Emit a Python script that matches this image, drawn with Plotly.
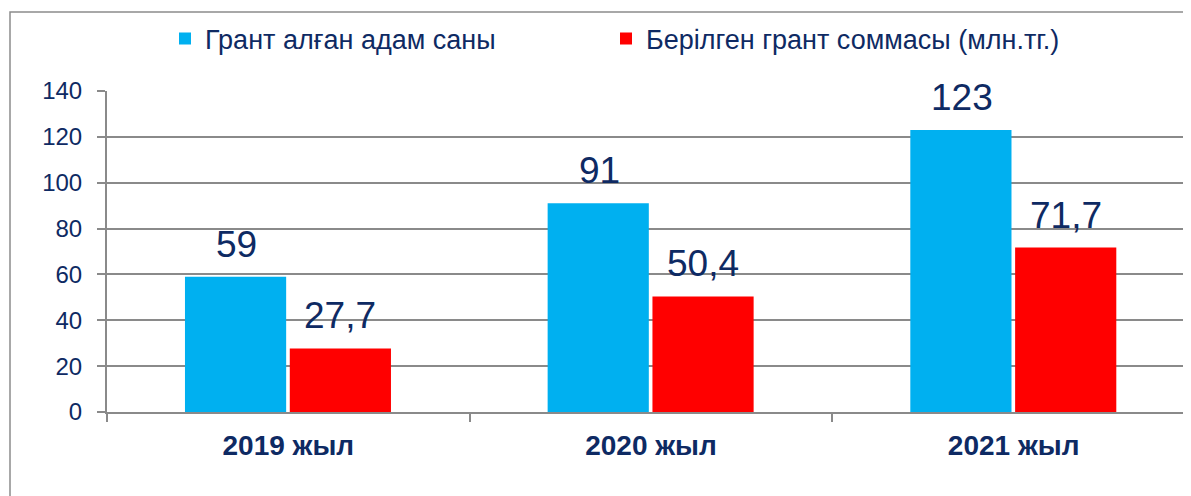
import plotly.graph_objects as go

categories = ["2019 жыл", "2020 жыл", "2021 жыл"]
grant_people = [59, 91, 123]
grant_amount = [27.7, 50.4, 71.7]
series_names = ["Грант алған адам саны", "Берілген грант соммасы (млн.тг.)"]
y_ticks = [0, 20, 40, 60, 80, 100, 120, 140]

NAVY = "#0E2A63"
GRID = "#8A8A8A"
FONT = "Liberation Sans, Arial, sans-serif"

OFF = 8  # page body margin
W, H = 1191, 496
L, R, T, B = 107 - OFF, 4, 91 - OFF, 84 + OFF
pw = W - L - R
ph = H - T - B

fig = go.Figure()
fig.add_trace(go.Bar(x=categories, y=grant_people, name=series_names[0],
                     marker=dict(color="#00B0F0", line=dict(width=0)),
                     offset=-0.285, width=0.279, legend="legend"))
fig.add_trace(go.Bar(x=categories, y=grant_amount, name=series_names[1],
                     marker=dict(color="#FF0000", line=dict(width=0)),
                     offset=0.004, width=0.279, legend="legend2"))

def fmt(v):
    s = ("%g" % v)
    return s.replace(".", ",")

annotations = []
for i, c in enumerate(categories):
    for v, sh in ((grant_people[i], -52), (grant_amount[i], 52)):
        annotations.append(dict(x=c, y=v, xref="x", yref="y", text=fmt(v),
                                showarrow=False, xanchor="center", yanchor="bottom",
                                xshift=sh, yshift=10,
                                font=dict(size=37, color=NAVY, family=FONT)))

leg_y = (H - B - (39 - OFF)) / ph

def leg(text_px):
    left = text_px - OFF - 40
    return dict(orientation="h", x=(left - L) / pw, xanchor="left",
                y=leg_y, yanchor="middle",
                font=dict(size=27, color=NAVY, family=FONT),
                itemsizing="constant", bgcolor="rgba(0,0,0,0)")

fig.update_layout(
    width=W, height=H,
    margin=dict(l=L, r=R, t=T, b=B),
    paper_bgcolor="white", plot_bgcolor="white",
    barmode="group",
    showlegend=True,
    legend=leg(205),
    legend2=leg(646),
    annotations=annotations,
    font=dict(family=FONT, color=NAVY),
    shapes=[dict(type="rect", xref="paper", yref="paper",
                 x0=(10 - OFF - L) / pw, x1=1.2,
                 y0=-0.6, y1=(H - B - (12 - OFF)) / ph,
                 line=dict(color="#8C8C8C", width=1.5), layer="below")],
)

fig.update_xaxes(
    showline=True, linecolor=GRID, linewidth=2,
    ticks="outside", tickson="boundaries", ticklen=8, tickcolor=GRID, tickwidth=2,
    tickfont=dict(size=28, color=NAVY, family=FONT),
    ticklabelstandoff=7,
    showgrid=False, range=[-0.5, 2.5],
)
fig.update_yaxes(
    range=[0, 140], tickvals=y_ticks,
    showline=True, linecolor=GRID, linewidth=2,
    ticks="outside", ticklen=8, tickcolor=GRID, tickwidth=2,
    showgrid=True, gridcolor=GRID, gridwidth=1.5,
    zeroline=False,
    ticklabelstandoff=10,
    tickfont=dict(size=24, color=NAVY, family=FONT),
)

fig.update_xaxes(tickvals=categories, ticktext=["<b>%s</b>" % c for c in categories])

fig.write_html("out.html")
